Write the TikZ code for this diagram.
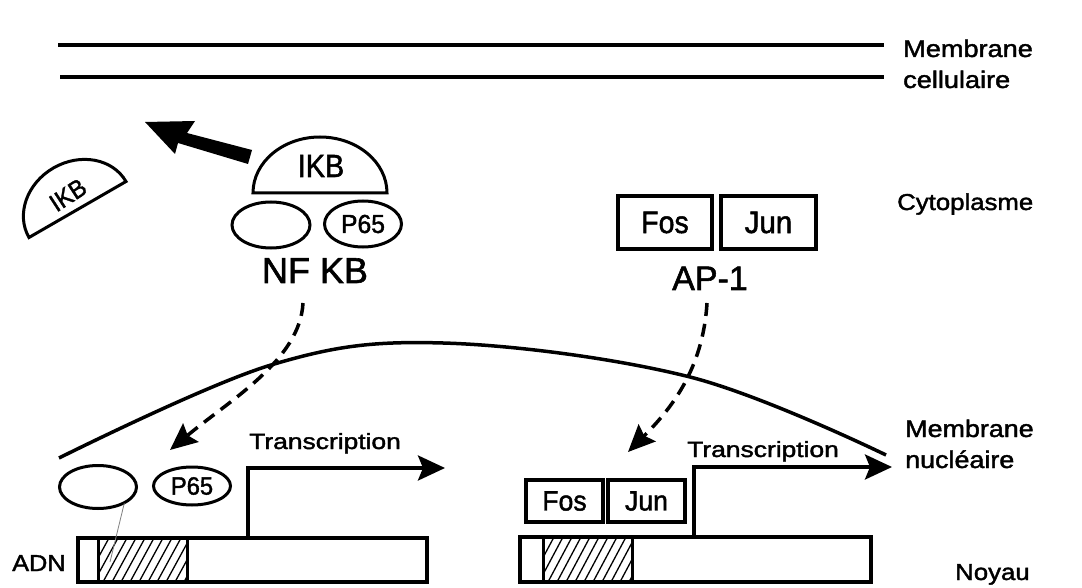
\documentclass[tikz,border=0pt]{standalone}
\usepackage{fontspec}
\setmainfont{Liberation Sans}[FakeBold=1.6]
\usetikzlibrary{arrows.meta,shapes.geometric}
\newcommand\myfs[1]{\fontsize{#1}{#1}\selectfont}
\begin{document}
\begin{tikzpicture}[x=1pt,y=-1pt,
  lbl/.style={inner sep=0pt, anchor=base west},
  heavy/.style={line width=3.5pt},
  prot/.style={draw, ellipse, line width=3pt, inner sep=0pt, minimum width=77pt, minimum height=44pt},
  sbox/.style={draw, rectangle, line width=3.5pt, inner sep=0pt},
  dsh/.style={line width=3.5pt, dash pattern=on 13pt off 8pt, -{Stealth[length=27pt,width=24pt,inset=4pt]}},
  trarrow/.style={line width=3.5pt, -{Stealth[length=27pt,width=25pt,inset=5pt]}}]
\useasboundingbox[fill=white] (0,0) rectangle (1082,588);

% cell membrane
\draw[heavy] (58,45) -- (884,45);
\draw[heavy] (60,77) -- (884,77);

% labels on right
\node[lbl,font=\myfs{24},xscale=1.13] (mc1) at (903,57) {Membrane};
\node[lbl,font=\myfs{24},xscale=1.13] (mc2) at (903,88) {cellulaire};
\node[lbl,font=\myfs{23},xscale=1.12] (cyto) at (897,210) {Cytoplasme};
\node[lbl,font=\myfs{24},xscale=1.12] (mn1) at (905,437) {Membrane};
\node[lbl,font=\myfs{24},xscale=1.12] (mn2) at (905,468) {nucléaire};
\node[lbl,font=\myfs{23},xscale=1.12] (noy) at (955,580) {Noyau};

% IKB dome on the complex
\draw[line width=3pt] (253,193) arc[start angle=180,end angle=360,x radius=67,y radius=56] -- cycle;
\node[font=\myfs{32},xscale=0.9,inner sep=0pt,anchor=base] (ikb1) at (321,177) {IKB};

% free IKB
\begin{scope}[shift={(77.5,209.5)},rotate=30]
\draw[line width=3pt] (-56,0) arc[start angle=180,end angle=360,x radius=56,y radius=48] -- cycle;
\end{scope}
\node[font=\myfs{25},rotate=33,inner sep=0pt] (ikb2) at (68,195) {\scalebox{0.95}[1]{IKB}};

% big arrow
\fill (145,122) -- (195,121) -- (187,133) -- (252,150) -- (248,164) -- (178,143) -- (175,154) -- cycle;

% NF KB complex
\node[prot,minimum width=78pt,minimum height=46pt] (p50a) at (271,225) {};
\node[prot,minimum height=46pt] (p65a) at (363,224) {\myfs{26}\scalebox{0.95}[1]{P65}};
\node[font=\myfs{36},inner sep=0pt,anchor=base] (nfkb) at (315,283) {NF KB};

% AP-1 complex
\node[sbox,minimum width=94pt,minimum height=53pt] (fos1) at (665,222.5) {\myfs{31}\scalebox{0.92}[1]{Fos}};
\node[sbox,minimum width=95pt,minimum height=53pt] (jun1) at (768.5,222.5) {\myfs{31}\scalebox{0.95}[1]{Jun}};
\node[font=\myfs{34},inner sep=0pt,anchor=base] (ap1) at (710,290) {AP-1};

% nuclear membrane
\draw[heavy] plot[smooth, tension=0.6] coordinates {(59,458) (271,365) (443,343) (690,377) (886,455)};

% dashed arrows
\coordinate (nfs) at (303,303);
\coordinate (nft) at (170,450);
\draw[dsh] (nfs) .. controls (300,360) and (230,400) .. (nft);
\coordinate (aps) at (707,303);
\coordinate (apt) at (628,452);
\draw[dsh] (aps) .. controls (703,370) and (670,410) .. (apt);

% left nucleus part
\node[prot,minimum height=43pt,minimum width=77pt] (p50b) at (98,487) {};
\node[prot,minimum height=38pt,minimum width=77pt] (p65b) at (192,486) {\myfs{25}\scalebox{0.95}[1]{P65}};
\draw[line width=3.5pt] (78,538) rectangle (427,582);
\begin{scope}
\clip (98,538) rectangle (187,582);
\foreach \i in {0,...,14} \draw[line width=1.3pt] (76+\i*9,582) -- ++(24,-44);
\end{scope}
\draw[line width=3pt] (98,538) -- (98,582);
\draw[line width=3pt] (187,538) -- (187,582);
\draw[line width=0.8pt, gray] (p50b.south east) ++(-2,0) -- (110,562);
\node[lbl,font=\myfs{23},xscale=1.1] (adn) at (12,571) {ADN};
\coordinate (tr1s) at (248,538);
\coordinate (tr1e) at (445,468);
\draw[trarrow] (tr1s) |- (tr1e);
\node[lbl,font=\myfs{22},xscale=1.2] (tr1) at (249,449) {Transcription};

% right nucleus part
\node[sbox,minimum width=77pt,minimum height=42pt] (fos2) at (564.5,501) {\myfs{28}\scalebox{0.95}[1]{Fos}};
\node[sbox,minimum width=77pt,minimum height=42pt] (jun2) at (646.5,501) {\myfs{28}\scalebox{0.95}[1]{Jun}};
\draw[line width=3.5pt] (520,537) rectangle (871,582);
\begin{scope}
\clip (543,537) rectangle (632,582);
\foreach \i in {0,...,14} \draw[line width=1.3pt] (521+\i*9,582) -- ++(24,-45);
\end{scope}
\draw[line width=3pt] (543,537) -- (543,582);
\draw[line width=3pt] (632,537) -- (632,582);
\coordinate (tr2s) at (694,537);
\coordinate (tr2e) at (892,467);
\draw[trarrow] (tr2s) |- (tr2e);
\node[lbl,font=\myfs{22},xscale=1.2] (tr2) at (687,457) {Transcription};
\end{tikzpicture}
\end{document}
